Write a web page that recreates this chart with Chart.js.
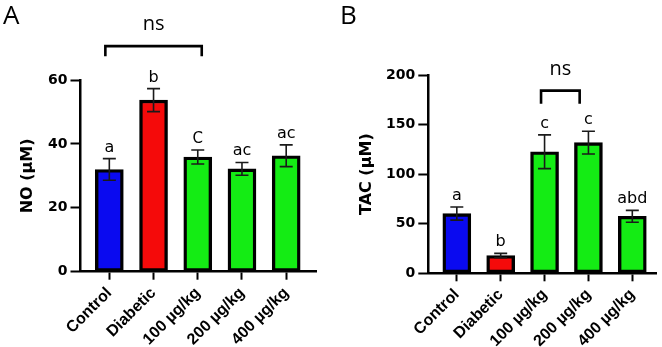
<!DOCTYPE html>
<html><head><meta charset="utf-8">
<script src="https://cdn.jsdelivr.net/npm/chart.js@4.4.1/dist/chart.umd.min.js"></script>
<style>
html,body{margin:0;padding:0;background:#fff;}
#wrap{position:relative;width:662px;height:347px;overflow:hidden;background:#fff;}
.panel{position:absolute;top:0;width:331px;height:347px;}
</style></head><body>
<div id="wrap">
<div class="panel" style="left:0"><canvas id="cA" width="331" height="347"></canvas></div>
<div class="panel" style="left:331px"><canvas id="cB" width="331" height="347"></canvas></div>
</div>
<script>
// ---- data ----
const categories = ['Control', 'Diabetic', '100 µg/kg', '200 µg/kg', '400 µg/kg'];
const noValues  = [32.0, 53.7, 35.9, 32.2, 36.3];
const noErrors  = [3.4, 3.6, 2.2, 2.0, 3.4];
const noLetters = ['a', 'b', 'C', 'ac', 'ac'];
const noTicks   = [0, 20, 40, 60];
const tacValues  = [60.2, 17.9, 122.6, 131.8, 57.5];
const tacErrors  = [6.6, 2.2, 17.0, 11.5, 6.0];
const tacLetters = ['a', 'b', 'c', 'c', 'abd'];
const tacTicks   = [0, 50, 100, 150, 200];
const barColors = ['#0a0af0', '#f50a0a', '#14ec14', '#14ec14', '#14ec14'];

const annotPlugin = {
  id: 'annot',
  afterDatasetsDraw(chart, args, o) {
    const {ctx, scales: {x, y}} = chart;
    ctx.save();
    ctx.strokeStyle = '#1a1a1a';
    ctx.lineWidth = 1.6;
    o.values.forEach((v, i) => {
      const px = x.getPixelForValue(i);
      const top = y.getPixelForValue(v + o.errors[i]);
      const bot = y.getPixelForValue(v - o.errors[i]);
      ctx.beginPath();
      ctx.moveTo(px, top); ctx.lineTo(px, bot);
      ctx.moveTo(px - 6.5, top); ctx.lineTo(px + 6.5, top);
      ctx.moveTo(px - 6.5, bot); ctx.lineTo(px + 6.5, bot);
      ctx.stroke();
      const l = o.letters[i];
      ctx.fillStyle = '#000';
      ctx.textAlign = 'center';
      ctx.textBaseline = 'alphabetic';
      ctx.font = /[A-Z]/.test(l) ? '15px "DejaVu Sans"' : '16px "DejaVu Sans"';
      ctx.fillText(l, px, top - 7);
    });
    ctx.restore();
  },
  afterDraw(chart, args, o) {
    const {ctx, scales: {x, y}} = chart;
    ctx.save();
    ctx.fillStyle = '#000';
    ctx.font = '26px "Open Sans"';
    ctx.textAlign = 'left';
    ctx.textBaseline = 'alphabetic';
    ctx.fillText(o.panel, o.panelX, 24);
    const x1 = x.getPixelForValue(o.bracket.from);
    const x2 = x.getPixelForValue(o.bracket.to);
    const by = y.getPixelForValue(o.bracket.level);
    ctx.strokeStyle = '#000';
    ctx.lineWidth = 2.6;
    ctx.lineJoin = 'miter';
    ctx.beginPath();
    ctx.moveTo(x1, by + o.bracket.leg);
    ctx.lineTo(x1, by);
    ctx.lineTo(x2, by);
    ctx.lineTo(x2, by + o.bracket.leg);
    ctx.stroke();
    ctx.font = '20px "Open Sans"';
    ctx.textAlign = 'center';
    ctx.fillText('ns', (x1 + x2) / 2, by - 16);
    ctx.restore();
  }
};

function makeChart(id, cfg) {
  return new Chart(document.getElementById(id), {
    type: 'bar',
    data: {
      datasets: [{
        data: cfg.values.map((v, i) => ({x: i, y: v})),
        backgroundColor: barColors,
        borderColor: '#000',
        borderWidth: 3.4,
        borderSkipped: false,
        barThickness: 28
      }]
    },
    options: {
      responsive: false,
      animation: false,
      devicePixelRatio: 1,
      layout: {padding: {top: cfg.top, right: 331 - cfg.right, left: 0, bottom: 0}},
      plugins: {
        legend: {display: false},
        tooltip: {enabled: false},
        annot: {values: cfg.values, errors: cfg.errors, letters: cfg.letters,
                panel: cfg.panel, panelX: cfg.panelX, bracket: cfg.bracket}
      },
      scales: {
        x: {
          type: 'linear', min: cfg.xMin, max: cfg.xMax, offset: false,
          afterBuildTicks: s => { s.ticks = categories.map((c, i) => ({value: i})); },
          afterFit: s => { s.height = 347 - cfg.bottom; },
          grid: {display: true, drawOnChartArea: false, drawTicks: true, tickLength: 8,
                 tickWidth: 2, tickColor: '#000', offset: false},
          border: {display: true, color: '#000', width: 2.5},
          ticks: {autoSkip: false, maxRotation: 45, minRotation: 45, padding: 4, color: '#000',
                  font: {family: 'Liberation Sans', weight: 'bold', size: 16},
                  callback: v => categories[v]}
        },
        y: {
          min: 0, max: cfg.yMax,
          afterBuildTicks: s => { s.ticks = cfg.ticks.map(v => ({value: v})); },
          afterFit: s => { s.width = cfg.left; },
          grid: {display: true, drawOnChartArea: false, drawTicks: true, tickLength: 10,
                 tickWidth: 2, tickColor: '#000'},
          border: {display: true, color: '#000', width: 2.5},
          ticks: {padding: 3, color: '#000',
                  font: {family: 'DejaVu Sans', weight: 'bold', size: 14}},
          title: {display: true, text: cfg.yTitle, color: '#000',
                  font: {family: 'DejaVu Sans', weight: 'bold', size: 16},
                  padding: {top: cfg.titlePad, bottom: 0}}
        }
      }
    },
    plugins: [annotPlugin]
  });
}

makeChart('cA', {
  values: noValues, errors: noErrors, letters: noLetters, ticks: noTicks, yMax: 60,
  yTitle: 'NO (µM)', panel: 'A', panelX: 3, titlePad: 18,
  xMin: -0.652, xMax: 4.69, left: 80.5, right: 316.7, top: 80, bottom: 271.7,
  bracket: {from: -0.09, to: 2.09, level: 70.6, leg: 10}
});
makeChart('cB', {
  values: tacValues, errors: tacErrors, letters: tacLetters, ticks: tacTicks, yMax: 200,
  yTitle: 'TAC (µM)', panel: 'B', panelX: 9, titlePad: 26,
  xMin: -0.65, xMax: 4.54, left: 97.3, right: 325, top: 75, bottom: 273.3,
  bracket: {from: 1.92, to: 2.8, level: 184.2, leg: 13}
});
</script>
</body></html>
